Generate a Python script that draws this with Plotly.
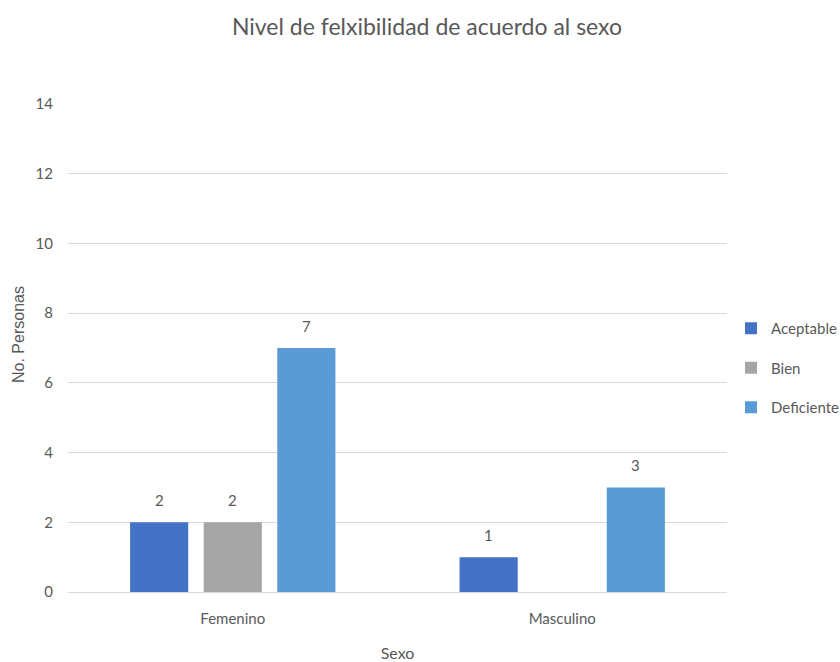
import plotly.graph_objects as go

# Datos: nivel de flexibilidad por sexo
sexos = ["Femenino", "Masculino"]
aceptable = [2, 1]
bien = [2, None]
deficiente = [7, 3]

series = [
    ("Aceptable", aceptable, "#4472C4"),
    ("Bien", bien, "#A5A5A5"),
    ("Deficiente", deficiente, "#5B9BD5"),
]

font_main = "Lato, 'Open Sans', sans-serif"
gris = "#595959"

W, H = 840, 662
ML, MR, MT, MB = 68, 113, 104, 70
BARGAP, BARGROUPGAP = 0.33, 0.21
plot_w = W - ML - MR
plot_h = H - MT - MB
# ancho en píxeles de cada hueco de barra dentro de un grupo
slot_px = plot_w / len(sexos) * (1 - BARGAP) / len(series)

fig = go.Figure()
annotations = []
for i, (nombre, valores, color) in enumerate(series):
    fig.add_trace(go.Bar(
        name=nombre,
        x=sexos,
        y=valores,
        marker=dict(color=color, line=dict(width=0)),
        legendgroup=f"g{i}",
    ))
    # etiquetas de valor encima de cada barra
    for cat, v in zip(sexos, valores):
        if v is None:
            continue
        annotations.append(dict(
            x=cat, y=v, xref="x", yref="y",
            text=str(v), showarrow=False,
            xshift=(i - (len(series) - 1) / 2) * slot_px,
            yshift=22, yanchor="middle",
            font=dict(family=font_main, size=15, color=gris),
        ))

# título del eje vertical (coordenadas paper relativas al área de trazado)
annotations.append(dict(
    x=(18 - ML) / plot_w, y=(H - MB - 335) / plot_h, xref="paper", yref="paper",
    text="No. Personas", textangle=-90, showarrow=False,
    xanchor="center", yanchor="middle",
    font=dict(family="'Liberation Sans', Arial, sans-serif", size=16, color=gris),
))

fig.update_layout(
    width=W,
    height=H,
    paper_bgcolor="white",
    plot_bgcolor="white",
    barmode="group",
    bargap=BARGAP,
    bargroupgap=BARGROUPGAP,
    margin=dict(l=ML, r=MR, t=MT, b=MB, autoexpand=False),
    title=dict(
        text="Nivel de felxibilidad de acuerdo al sexo",
        x=427 / W, xanchor="center", xref="container",
        y=1 - 27 / H, yanchor="middle", yref="container",
        font=dict(family=font_main, size=23, color=gris),
    ),
    font=dict(family=font_main, color=gris),
    annotations=annotations,
    legend=dict(
        xref="container", x=731 / W, xanchor="left",
        y=(592 - 368) / plot_h, yanchor="middle",
        traceorder="grouped",
        tracegroupgap=17,
        font=dict(family=font_main, size=15, color=gris),
        itemwidth=30,
        bgcolor="rgba(0,0,0,0)",
    ),
    xaxis=dict(
        title=dict(text="Sexo", font=dict(family=font_main, size=16, color=gris), standoff=22),
        tickfont=dict(family=font_main, size=15, color=gris),
        showline=False,
        ticks="",
        showgrid=False,
        ticklabelstandoff=16,
    ),
    yaxis=dict(
        range=[0, 14],
        dtick=2,
        tickfont=dict(family=font_main, size=15, color=gris),
        gridcolor="#D9D9D9",
        gridwidth=1,
        zeroline=True,
        zerolinecolor="#D9D9D9",
        zerolinewidth=1,
        showline=False,
        ticks="",
        ticklabelstandoff=14,
    ),
)

fig.write_html("out.html")
